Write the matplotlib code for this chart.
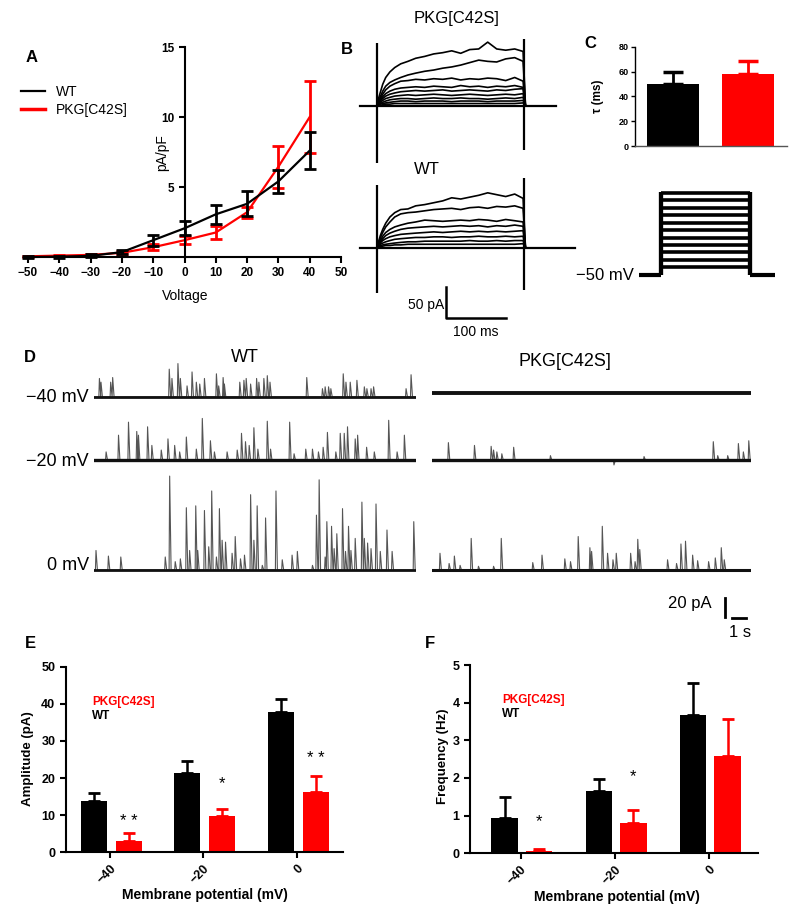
import matplotlib
matplotlib.use("Agg")
import matplotlib.pyplot as plt
from matplotlib.lines import Line2D

plt.rcParams['font.family'] = ['Liberation Sans', 'DejaVu Sans']
plt.rcParams['axes.linewidth'] = 1.5

# ---------------- data ----------------
# A: I-V curve (pA/pF)
iv_voltage = [-50, -40, -30, -20, -10, 0, 10, 20, 30, 40]
iv_wt = [0.0, 0.02, 0.08, 0.35, 1.2, 2.05, 3.05, 3.8, 5.4, 7.6]
iv_wt_err = [0.05, 0.08, 0.1, 0.15, 0.38, 0.5, 0.67, 0.9, 0.8, 1.3]
iv_pkg = [0.05, 0.1, 0.15, 0.3, 0.7, 1.2, 1.75, 3.2, 6.45, 10.0]
iv_pkg_err = [0.05, 0.05, 0.05, 0.1, 0.2, 0.3, 0.45, 0.4, 1.5, 2.6]

# B: current traces (ms, pA)
b_time = [0, 3, 6, 10, 15, 22, 30, 40, 52, 65, 80, 95, 110, 125, 140, 155, 170, 185, 200, 215, 230, 244]
pkg_traces = [
    [0, 12, 22, 35, 46, 55, 62, 68, 72, 77, 80, 84, 86, 89, 85, 91, 92, 103, 92, 90, 92, 88],
    [0, 8, 15, 24, 32, 38, 42, 46, 50, 53, 56, 58, 61, 63, 66, 70, 74, 72, 71, 76, 78, 72],
    [0, 6, 12, 19, 26, 32, 36, 40, 41, 43, 42, 44, 43, 45, 42, 44, 43, 45, 44, 41, 46, 40],
    [0, 5, 10, 15, 20, 24, 27, 29, 30, 31, 30, 32, 31, 30, 33, 31, 32, 30, 32, 31, 33, 30],
    [0, 4, 8, 12, 16, 19, 21, 23, 24, 25, 24, 25, 26, 24, 25, 26, 25, 24, 26, 25, 27, 28],
    [0, 3, 6, 9, 12, 14, 16, 17, 18, 17, 18, 19, 18, 17, 18, 19, 18, 17, 18, 19, 18, 20],
    [0, 2, 4, 6, 8, 10, 11, 12, 12, 11, 12, 13, 12, 12, 13, 12, 12, 11, 12, 13, 12, 14],
    [0, 1, 3, 4, 5, 6, 7, 8, 8, 7, 8, 8, 8, 7, 8, 8, 8, 7, 8, 8, 8, 9],
    [0, 1, 1, 2, 3, 3, 4, 4, 4, 4, 4, 4, 4, 4, 4, 4, 4, 4, 4, 4, 4, 5],
]
wt_traces = [
    [0, 10, 20, 30, 40, 50, 57, 62, 63, 68, 70, 73, 76, 81, 79, 82, 85, 89, 86, 83, 87, 80],
    [0, 8, 16, 25, 34, 42, 50, 55, 57, 58, 60, 62, 63, 64, 62, 65, 66, 64, 67, 66, 68, 64],
    [0, 6, 12, 19, 25, 30, 34, 37, 40, 42, 45, 44, 43, 44, 45, 44, 46, 45, 43, 46, 44, 42],
    [0, 5, 10, 15, 20, 24, 27, 30, 32, 33, 34, 35, 34, 35, 36, 35, 36, 34, 36, 35, 37, 35],
    [0, 4, 8, 12, 15, 18, 20, 22, 23, 24, 25, 26, 25, 26, 27, 26, 27, 26, 27, 26, 27, 28],
    [0, 3, 6, 8, 10, 12, 14, 15, 16, 17, 17, 18, 18, 17, 18, 18, 19, 18, 18, 19, 18, 19],
    [0, 2, 4, 5, 6, 7, 8, 9, 10, 10, 11, 11, 11, 11, 11, 12, 11, 11, 12, 11, 12, 12],
    [0, 1, 2, 3, 4, 4, 5, 5, 6, 6, 6, 6, 6, 6, 6, 6, 6, 6, 6, 6, 6, 7],
]
pkg_transient_low = [-92, -71]
pkg_transient_high = [102, 108]
wt_transient_low = [-73, -68]
wt_transient_high = [102, 113]

# C: time constant and step protocol
tau_labels = ['WT', 'PKG[C42S]']
tau_mean = [50, 58]
tau_err = [9.5, 10.5]
step_levels = [-40, -30, -20, -10, 0, 10, 20, 30, 40, 50, 60]
hold_level = -50

# D: spontaneous events (time s, amplitude pA) for -40, -20, 0 mV
wt_spikes = [
    ([0.38, 0.49, 1.17, 1.31, 5.28, 5.47, 5.89, 6.06, 6.53, 6.88, 7.18, 7.42, 7.75, 8.59, 8.75, 9.06,
      9.15, 10.23, 10.52, 10.68, 10.99, 11.41, 11.57, 11.92, 12.16, 12.35, 14.93, 16.03, 16.22, 16.46,
      16.62, 17.49, 17.68, 17.98, 18.45, 18.97, 19.15, 19.44, 19.62, 21.90, 22.25],
     [20, 16, 16, 21, 30, 20, 36, 20, 12, 27, 16, 14, 20, 25, 12, 21,
      14, 16, 18, 20, 14, 20, 16, 20, 23, 16, 21, 9, 11, 11,
      9, 25, 16, 16, 18, 11, 9, 9, 11, 9, 24]),
    ([0.85, 1.72, 2.42, 3.0, 3.12, 3.76, 4.06, 4.72, 5.19, 5.66, 6.01, 6.48, 7.18, 7.6, 8.17, 8.45,
      9.34, 10.05, 10.35, 10.63, 10.89, 11.22, 11.5, 12.16, 12.39, 13.73, 14.04, 14.86, 15.33, 15.75,
      16.08, 16.38, 16.97, 17.28, 17.56, 17.79, 18.33, 18.5, 19.13, 19.67, 20.68, 21.27, 21.78],
     [9, 27, 41, 31, 27, 36, 16, 11, 23, 16, 9, 25, 12, 45, 21, 9,
      9, 11, 29, 20, 16, 35, 12, 42, 12, 41, 7, 12, 12, 9,
      14, 30, 9, 29, 29, 36, 23, 27, 14, 9, 43, 9, 27]),
    ([0.14, 1.01, 1.88, 5.0, 5.31, 5.7, 6.06, 6.48, 6.71, 7.14, 7.28, 7.75, 8.05, 8.26, 8.59, 8.8,
      8.99, 9.23, 9.69, 9.91, 10.28, 10.56, 10.99, 11.22, 11.45, 11.81, 12.04, 12.77, 13.21, 13.9,
      14.27, 15.33, 15.61, 15.8, 16.22, 16.34, 16.67, 16.85, 17.04, 17.44, 17.65, 17.86, 18.03, 18.33,
      18.8, 18.97, 19.2, 19.44, 19.79, 20.09, 20.56, 20.92, 22.44],
     [21, 15, 14, 14, 101, 9, 12, 67, 21, 69, 21, 64, 25, 85, 14, 66,
      32, 30, 18, 36, 12, 16, 81, 32, 69, 5, 56, 85, 11, 16,
      20, 5, 59, 97, 14, 52, 47, 23, 39, 66, 20, 47, 21, 34,
      73, 34, 29, 23, 71, 20, 43, 20, 52]),
]
pkg_spikes = [
    ([], []),
    ([1.15, 2.98, 4.15, 4.32, 4.55, 4.9, 5.73, 8.31, 12.77, 14.88, 19.74, 20.05, 20.75, 21.5, 21.85, 22.23],
     [19, 16, 15, 11, 9, 7, 14, 5, -5, 4, 20, 5, 5, 18, 9, 21]),
    ([0.56, 1.2, 1.57, 1.97, 2.75, 3.26, 4.32, 4.86, 7.07, 7.72, 9.32, 9.72, 10.26, 11.08, 11.2, 11.95,
      12.32, 12.7, 12.93, 13.94, 14.25, 14.44, 14.58, 16.53, 17.16, 17.47, 17.79, 18.29, 18.64, 19.41,
      19.88, 20.3, 20.51],
     [18, 7, 15, 5, 34, 4, 4, 34, 8, 16, 12, 9, 36, 24, 20, 47,
      18, 11, 18, 18, 9, 33, 22, 11, 7, 28, 31, 16, 10, 9,
      13, 24, 11]),
]
wt_offsets = [186, 118, 0]
pkg_offsets = [190, 118, 0]
row_labels = ['−40 mV', '−20 mV', '0 mV']

# E, F: bar charts
potentials = ['−40', '−20', '0']
amp_wt = [13.8, 21.3, 37.9]
amp_wt_err = [2.3, 3.3, 3.3]
amp_pkg = [3.1, 9.8, 16.3]
amp_pkg_err = [2.0, 1.8, 4.3]
amp_stars = ['* *', '*', '* *']
freq_wt = [0.93, 1.66, 3.66]
freq_wt_err = [0.57, 0.31, 0.85]
freq_pkg = [0.07, 0.80, 2.58]
freq_pkg_err = [0.04, 0.35, 0.99]
freq_stars = ['*', '*', '']

RED = '#ff0000'
W, H = 800, 915
fig = plt.figure(figsize=(W / 100, H / 100), dpi=100)


def box(left, top, right, bottom):
    return fig.add_axes([left / W, 1 - bottom / H, (right - left) / W, (bottom - top) / H])


def label(x, y, s, **kw):
    fig.text(x / W, 1 - y / H, s, **kw)


# ---------------- A ----------------
ax = box(28, 47, 341, 257)
ax.errorbar(iv_voltage, iv_wt, yerr=iv_wt_err, color='black', lw=1.6, capsize=4,
            elinewidth=2, capthick=2, clip_on=False, zorder=3)
ax.errorbar(iv_voltage, iv_pkg, yerr=iv_pkg_err, color=RED, lw=1.6, capsize=4,
            elinewidth=2, capthick=2, clip_on=False, zorder=2)
ax.set_xlim(-50, 50)
ax.set_ylim(0, 15)
ax.spines['left'].set_position(('data', 0))
ax.spines['top'].set_visible(False)
ax.spines['right'].set_visible(False)
ax.set_xticks(range(-50, 51, 10))
ax.set_yticks([5, 10, 15])
ax.tick_params(length=4, width=1.5, labelsize=8.5)
for t in ax.get_xticklabels() + ax.get_yticklabels():
    t.set_fontweight('bold')
label(185, 296, 'Voltage', fontsize=10, ha='center', va='center')
label(162, 153, 'pA/pF', fontsize=10, rotation=90, ha='center', va='center')
fig.legend(handles=[Line2D([], [], color='black', lw=1.6), Line2D([], [], color=RED, lw=2.5)],
           labels=['WT', 'PKG[C42S]'], loc='center left', bbox_to_anchor=(21 / W, 1 - 101 / H),
           frameon=False, fontsize=10, handlelength=1.7, handletextpad=0.8, labelspacing=0.3,
           borderpad=0, borderaxespad=0)
label(32, 57, 'A', fontsize=12, fontweight='bold', ha='center', va='center')

# ---------------- B ----------------
b_xlim = (-31.2, 335.5)
for traces, lows, highs, top, bottom, base, end in [
        (pkg_traces, pkg_transient_low, pkg_transient_high, 30, 170, 106, 299),
        (wt_traces, wt_transient_low, wt_transient_high, 172, 300, 248, 330)]:
    ax = box(358, top, 578, bottom)
    ax.set_xlim(*b_xlim)
    ax.set_ylim(-(bottom - base) / 0.62, (base - top) / 0.62)
    ax.axis('off')
    ax.plot([-28, end], [0, 0], color='black', lw=1.6)
    for amp in traces:
        ax.plot([-28] + b_time + [248, end], [0] + amp + [0, 0], color='black', lw=1.2)
    ax.vlines([0, 245], lows, highs, color='black', lw=1.6)
bax = ax
bax.plot([115.5, 115.5, 215.5], [-62.9, -112.9, -112.9], color='black', lw=1.8, clip_on=False)
bax.text(112, -92, '50 pA', fontsize=10, ha='right', va='center')
bax.text(165.5, -136, '100 ms', fontsize=10, ha='center', va='center')
label(457, 18, 'PKG[C42S]', fontsize=12, ha='center', va='center')
label(427, 170, 'WT', fontsize=12, ha='center', va='center')
label(347, 50, 'B', fontsize=12, fontweight='bold', ha='center', va='center')

# ---------------- C ----------------
ax = box(635, 46.7, 787, 146)
ax.bar([0, 1], tau_mean, width=0.69, color=['black', RED])
for i, c in enumerate(['black', RED]):
    ax.errorbar([i], [tau_mean[i]], yerr=[[0], [tau_err[i]]], fmt='none', ecolor=c,
                elinewidth=2, capsize=7, capthick=2.5)
ax.set_xlim(-0.507, 1.52)
ax.set_ylim(0, 80)
ax.set_yticks(range(0, 81, 20))
ax.set_xticks([])
ax.spines['top'].set_visible(False)
ax.spines['right'].set_visible(False)
ax.spines['left'].set_linewidth(1)
ax.spines['bottom'].set_linewidth(1)
ax.spines['bottom'].set_color('#555555')
ax.tick_params(axis='y', length=3, width=1, labelsize=6.5, pad=1.5)
for t in ax.get_yticklabels():
    t.set_fontweight('bold')
label(598, 96, 'τ (ms)', fontsize=8.5, fontweight='bold', rotation=90, ha='center', va='center')
label(590, 43, 'C', fontsize=12, fontweight='bold', ha='center', va='center')

ax = box(635, 185, 776, 285)
ax.set_xlim(-71.6, 324)
ax.set_ylim(-63.8, 70.8)
ax.axis('off')
for lvl in step_levels:
    ax.plot([0, 250], [lvl, lvl], color='black', lw=2.6, solid_capstyle='butt')
ax.plot([0, 0], [hold_level, max(step_levels) + 2], color='black', lw=3.1, solid_capstyle='butt')
ax.plot([250, 250], [hold_level, max(step_levels) + 2], color='black', lw=3.1, solid_capstyle='butt')
ax.plot([-60, 0], [hold_level, hold_level], color='black', lw=3, solid_capstyle='butt')
ax.plot([250, 320], [hold_level, hold_level], color='black', lw=3, solid_capstyle='butt')
label(634, 276, '−50 mV', fontsize=12, ha='right', va='center')

# ---------------- D ----------------
d_font = ['Liberation Sans Narrow', 'Liberation Sans', 'DejaVu Sans']
for spikes, offsets, widths, left, right in [(wt_spikes, wt_offsets, [2.0, 2.4, 2.0], 94, 416),
                                             (pkg_spikes, pkg_offsets, [2.8, 2.4, 2.2], 432, 751)]:
    ax = box(left, 350, right, 580)
    end = (right - left) / 14.25
    ax.set_xlim(0, end)
    ax.set_ylim(-10.75, 236.6)
    ax.axis('off')
    for (times, amps), off, lw in zip(spikes, offsets, widths):
        t, y = [0.0], [off]
        for s, a in sorted(zip(times, amps)):
            t += [s - 0.04, s, s + 0.1]
            y += [off, off + a, off]
        t.append(end)
        y.append(off)
        ax.plot(t, y, color='#555555', lw=0.8, zorder=2)
        ax.plot([0, end], [off, off], color='#111111', lw=lw, zorder=3)
dax = ax
dax.plot([20.56, 20.56], [-30, -50.5], color='black', lw=2, clip_on=False)
dax.plot([21.05, 22.05], [-51.6, -51.6], color='black', lw=2, clip_on=False)
dax.text(19.6, -35.5, '20 pA', fontsize=12, family=d_font, ha='right', va='center')
dax.text(21.65, -66.7, '1 s', fontsize=12, family=d_font, ha='center', va='center')
label(245, 357, 'WT', fontsize=13, family=d_font, ha='center', va='center')
label(565, 361, 'PKG[C42S]', fontsize=13, family=d_font, ha='center', va='center')
for txt, y in zip(row_labels, [397, 461, 565]):
    label(89, y, txt, fontsize=13, family=d_font, ha='right', va='center')
label(30, 357, 'D', fontsize=12, fontweight='bold', ha='center', va='center')


# ---------------- E, F ----------------
def bar_panel(ax, wt, wt_err, pkg, pkg_err, stars, star_y, ymax, step, xlim, dx):
    x = range(len(potentials))
    xw = [i - dx[0] for i in x]
    xp = [i + dx[1] for i in x]
    ax.bar(xw, wt, width=0.28, color='black')
    ax.bar(xp, pkg, width=0.28, color=RED)
    ax.errorbar(xw, wt, yerr=[[0] * 3, wt_err], fmt='none', ecolor='black',
                elinewidth=1.8, capsize=4.5, capthick=2)
    ax.errorbar(xp, pkg, yerr=[[0] * 3, pkg_err], fmt='none', ecolor=RED,
                elinewidth=1.8, capsize=4.5, capthick=2)
    for xi, s, sy in zip(xp, stars, star_y):
        ax.text(xi, sy, s, fontsize=12, ha='center', va='center')
    ax.set_xlim(*xlim)
    ax.set_ylim(0, ymax)
    ax.set_yticks([i * step for i in range(6)])
    ax.set_xticks(list(x))
    ax.set_xticklabels(potentials, rotation=45, ha='right', rotation_mode='anchor')
    ax.spines['top'].set_visible(False)
    ax.spines['right'].set_visible(False)
    ax.tick_params(length=4, width=1.5, labelsize=9)
    for t in ax.get_xticklabels() + ax.get_yticklabels():
        t.set_fontweight('bold')


ax = box(65.7, 666.7, 343, 852.3)
bar_panel(ax, amp_wt, amp_wt_err, amp_pkg, amp_pkg_err, amp_stars, [8.3, 18.6, 25.3],
          50, 10, (-0.475, 2.497), (0.171, 0.204))
label(92, 702, 'PKG[C42S]', fontsize=8.5, fontweight='bold', color=RED, ha='left', va='center')
label(92, 716, 'WT', fontsize=8.5, fontweight='bold', ha='left', va='center')
label(28, 759, 'Amplitude (pA)', fontsize=9.5, fontweight='bold', rotation=90, ha='center', va='center')
label(205, 895, 'Membrane potential (mV)', fontsize=10, fontweight='bold', ha='center', va='center')
label(30, 643, 'E', fontsize=12, fontweight='bold', ha='center', va='center')

ax = box(470, 665, 758, 853.3)
bar_panel(ax, freq_wt, freq_wt_err, freq_pkg, freq_pkg_err, freq_stars, [0.84, 2.04, 0],
          5, 1, (-0.538, 2.516), (0.172, 0.194))
label(502, 700, 'PKG[C42S]', fontsize=8.5, fontweight='bold', color=RED, ha='left', va='center')
label(502, 714, 'WT', fontsize=8.5, fontweight='bold', ha='left', va='center')
label(443, 756, 'Frequency (Hz)', fontsize=9.5, fontweight='bold', rotation=90, ha='center', va='center')
label(617, 897, 'Membrane potential (mV)', fontsize=10, fontweight='bold', ha='center', va='center')
label(430, 643, 'F', fontsize=12, fontweight='bold', ha='center', va='center')

fig.savefig('out.png', dpi=100)
